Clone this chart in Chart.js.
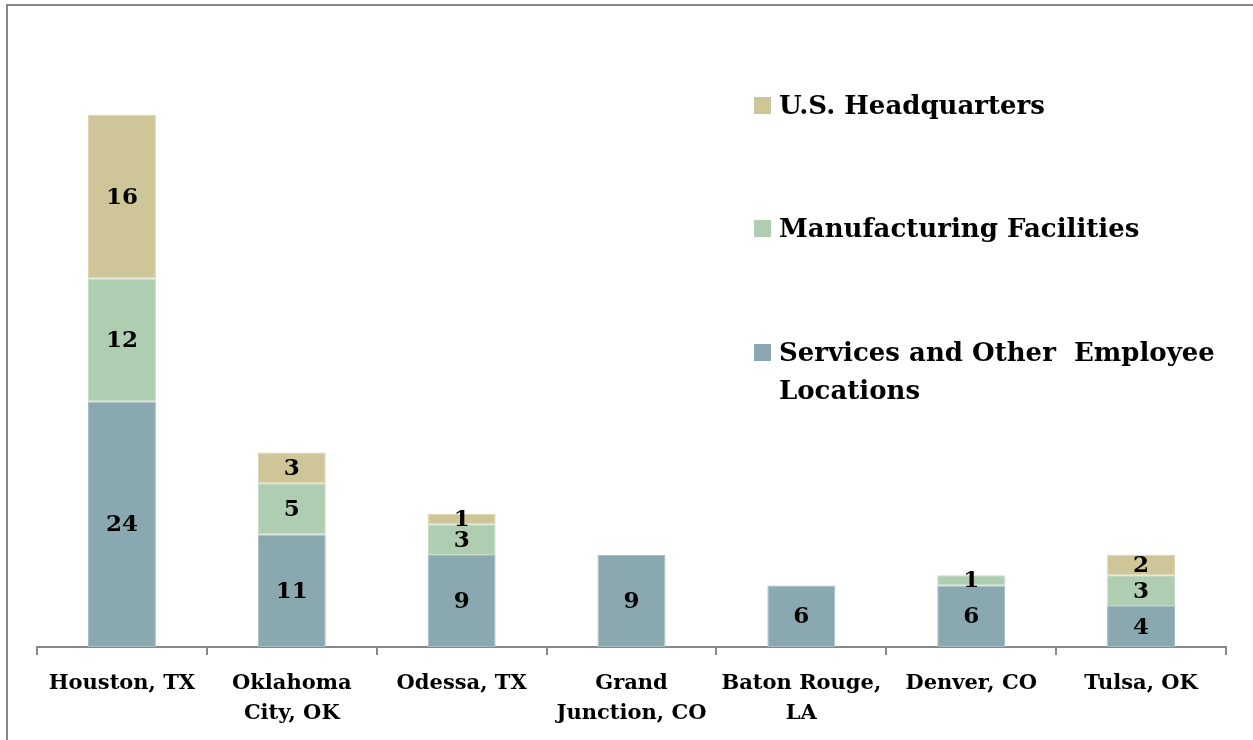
<!DOCTYPE html>
<html>
<head>
<meta charset="utf-8">
<script src="https://cdn.jsdelivr.net/npm/chart.js@4"></script>
<style>
  html, body { margin: 0; padding: 0; background: #fff; }
  #wrap { position: relative; width: 1253px; height: 740px; overflow: hidden; }
  #frame { position: absolute; left: 6px; top: 4px; right: -10px; bottom: -10px;
           border-top: 2px solid #888; border-left: 2px solid #888; pointer-events: none; }
  canvas { position: absolute; left: 0; top: 0; }
  .legend { position: absolute; left: 754px; font-family: 'DejaVu Serif', serif; font-weight: bold;
            font-size: 26px; line-height: 38px; color: #000; }
  .legend .sw { position: absolute; left: 0; top: 11px; width: 17px; height: 17px; }
  .legend .tx { margin-left: 25px; white-space: nowrap; }
</style>
</head>
<body>
<div id="wrap">
  <canvas id="chart" width="1253" height="740"></canvas>
  <div id="frame"></div>
  <div id="legend"></div>
</div>
<script>
const categories = [['Houston, TX'], ['Oklahoma', 'City, OK'], ['Odessa, TX'], ['Grand', 'Junction, CO'],
    ['Baton Rouge,', 'LA'], ['Denver, CO'], ['Tulsa, OK']];
const servicesValues = [24, 11, 9, 9, 6, 6, 4];
const manufacturingValues = [12, 5, 3, 0, 0, 1, 3];
const headquartersValues = [16, 3, 1, 0, 0, 0, 2];
const seriesNames = ['Services and Other  Employee Locations', 'Manufacturing Facilities', 'U.S. Headquarters'];
const seriesColors = ['#8aa8b0', '#afcdb0', '#cec699'];
const seriesEdges = ['#a3bcc2', '#c4dcc4', '#ddd5ae'];

const FONT = "'DejaVu Serif', serif";

// value labels in the middle of each segment
const segmentLabels = {
    id: 'segmentLabels',
    afterDatasetsDraw(chart) {
        const ctx = chart.ctx;
        ctx.save();
        ctx.font = 'bold 23px ' + FONT;
        ctx.fillStyle = '#000';
        ctx.textAlign = 'center';
        ctx.textBaseline = 'middle';
        chart.data.datasets.forEach((ds, i) => {
            chart.getDatasetMeta(i).data.forEach((bar, j) => {
                const v = ds.data[j];
                if (!v) return;
                ctx.fillText(String(v), bar.x, (bar.y + bar.base) / 2 + 1);
            });
        });
        ctx.restore();
    }
};

new Chart(document.getElementById('chart'), {
    type: 'bar',
    data: {
        labels: categories,
        datasets: [servicesValues, manufacturingValues, headquartersValues].map((d, i) => ({
            label: seriesNames[i],
            data: d,
            backgroundColor: seriesColors[i],
            borderColor: seriesEdges[i],
            borderWidth: 1,
            borderSkipped: false,
            barPercentage: 0.8,
            categoryPercentage: 0.5
        }))
    },
    options: {
        responsive: false,
        animation: false,
        layout: { padding: { left: 37, right: 27, top: 33, bottom: 0 } },
        plugins: { legend: { display: false }, tooltip: { enabled: false } },
        scales: {
            x: {
                stacked: true,
                grid: { drawOnChartArea: false, drawTicks: true, tickLength: 8, color: '#888', lineWidth: 2, offset: true },
                border: { color: '#888', width: 2 },
                ticks: { color: '#000', font: { family: FONT, weight: 'bold', size: 21, lineHeight: 1.4 },
                         padding: 14, maxRotation: 0, autoSkip: false },
                afterFit(scale) { scale.height = 93; }
            },
            y: { stacked: true, display: false, min: 0, max: 60 }
        }
    },
    plugins: [segmentLabels]
});

// legend laid over the plot, top to bottom: HQ, manufacturing, services
const legendRows = [
    { i: 2, top: 86, lines: [seriesNames[2]] },
    { i: 1, top: 209, lines: [seriesNames[1]] },
    { i: 0, top: 333, lines: ['Services and Other&nbsp; Employee', 'Locations'] }
];
document.getElementById('legend').innerHTML = legendRows.map(r =>
    `<div class="legend" style="top:${r.top}px"><span class="sw" style="background:${seriesColors[r.i]}"></span>` +
    `<div class="tx">${r.lines.join('<br>')}</div></div>`).join('');
</script>
</body>
</html>
